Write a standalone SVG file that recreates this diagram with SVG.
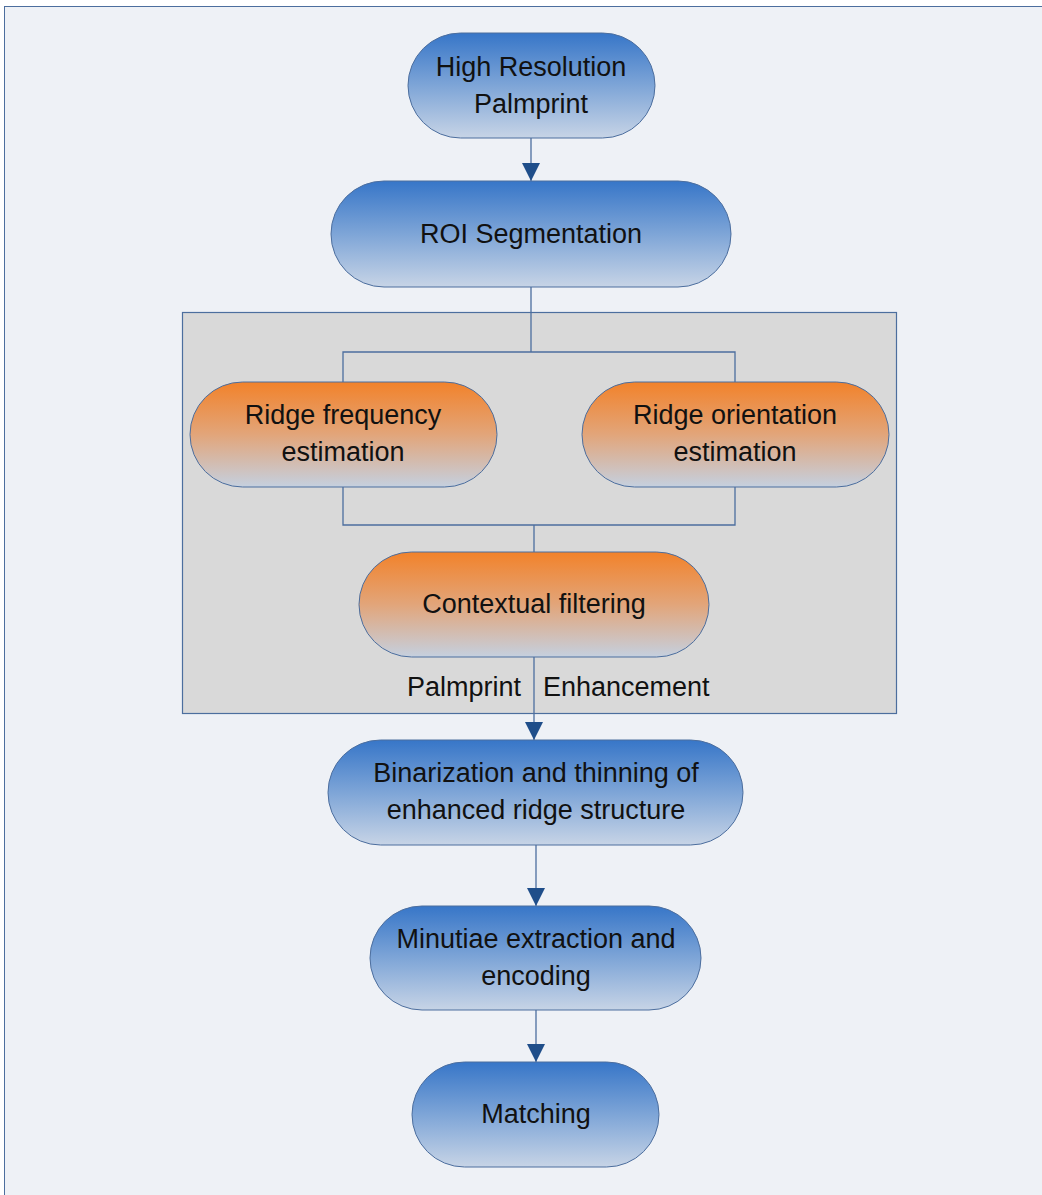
<svg xmlns="http://www.w3.org/2000/svg" width="1042" height="1195" viewBox="0 0 1042 1195">
<defs>
<linearGradient id="gBlue" x1="0" y1="0" x2="0" y2="1">
<stop offset="0" stop-color="#3776C8"/>
<stop offset="0.5" stop-color="#7EA5D7"/>
<stop offset="1" stop-color="#C7D4E6"/>
</linearGradient>
<linearGradient id="gOrange" x1="0" y1="0" x2="0" y2="1">
<stop offset="0" stop-color="#F2822A"/>
<stop offset="0.5" stop-color="#E2A57A"/>
<stop offset="1" stop-color="#C5D0DF"/>
</linearGradient>
<marker id="arr" markerWidth="18" markerHeight="20" refX="18" refY="9" orient="auto" markerUnits="userSpaceOnUse" viewBox="0 0 18 18">
<path d="M0,0 L18,9 L0,18 Z" fill="#1F4E8A"/>
</marker>
<style>
.blue{fill:url(#gBlue);stroke:#4C6E9E;stroke-width:1}
.orange{fill:url(#gOrange);stroke:#4C6E9E;stroke-width:1}
.t{font-family:"Liberation Sans",Arial,sans-serif;font-size:27px;fill:#111;text-anchor:middle}
.c{fill:none;stroke:#4C6E9E;stroke-width:1.3}
</style>
</defs>
<rect x="0" y="0" width="1042" height="1195" fill="#FFFFFF"/>
<rect x="4.5" y="6.5" width="1045" height="1195" fill="#EEF1F6" stroke="#4C6E9E" stroke-width="1"/>
<g id="enhancement-group">
<rect x="182.5" y="312.5" width="714" height="401" fill="#D9D9D9" stroke="#4C6E9E" stroke-width="1.2"/>
</g>
<g id="connectors">
<line class="c" x1="531" y1="138" x2="531" y2="181" marker-end="url(#arr)"/>
<path class="c" d="M531,287 V352 M343,382 V352 H735 V382"/>
<path class="c" d="M343,487 V525 H735 V487 M534,525 V552"/>
<line class="c" x1="534" y1="657" x2="534" y2="740" marker-end="url(#arr)"/>
<line class="c" x1="536" y1="845" x2="536" y2="906" marker-end="url(#arr)"/>
<line class="c" x1="536" y1="1010" x2="536" y2="1062" marker-end="url(#arr)"/>
</g>
<g id="n-high-res">
<rect class="blue" x="408" y="33" width="247" height="105" rx="52.5"/>
<text class="t" x="531" y="76">High Resolution</text>
<text class="t" x="531" y="113">Palmprint</text>
</g>
<g id="n-roi">
<rect class="blue" x="331" y="181" width="400" height="106" rx="53"/>
<text class="t" x="531" y="243">ROI Segmentation</text>
</g>
<g id="n-ridge-freq">
<rect class="orange" x="190" y="382" width="307" height="105" rx="52.5"/>
<text class="t" x="343" y="424">Ridge frequency</text>
<text class="t" x="343" y="461">estimation</text>
</g>
<g id="n-ridge-orient">
<rect class="orange" x="582" y="382" width="307" height="105" rx="52.5"/>
<text class="t" x="735" y="424">Ridge orientation</text>
<text class="t" x="735" y="461">estimation</text>
</g>
<g id="n-contextual">
<rect class="orange" x="359" y="552" width="350" height="105" rx="52.5"/>
<text class="t" x="534" y="613">Contextual filtering</text>
</g>
<g id="label-enh">
<text class="t" x="521" y="696" style="text-anchor:end">Palmprint</text>
<text class="t" x="543" y="696" style="text-anchor:start">Enhancement</text>
</g>
<g id="n-binarization">
<rect class="blue" x="328" y="740" width="415" height="105" rx="52.5"/>
<text class="t" x="536" y="782">Binarization and thinning of</text>
<text class="t" x="536" y="819">enhanced ridge structure</text>
</g>
<g id="n-minutiae">
<rect class="blue" x="370" y="906" width="331" height="104" rx="52"/>
<text class="t" x="536" y="948">Minutiae extraction and</text>
<text class="t" x="536" y="985">encoding</text>
</g>
<g id="n-matching">
<rect class="blue" x="412" y="1062" width="247" height="105" rx="52.5"/>
<text class="t" x="536" y="1123">Matching</text>
</g>
</svg>
